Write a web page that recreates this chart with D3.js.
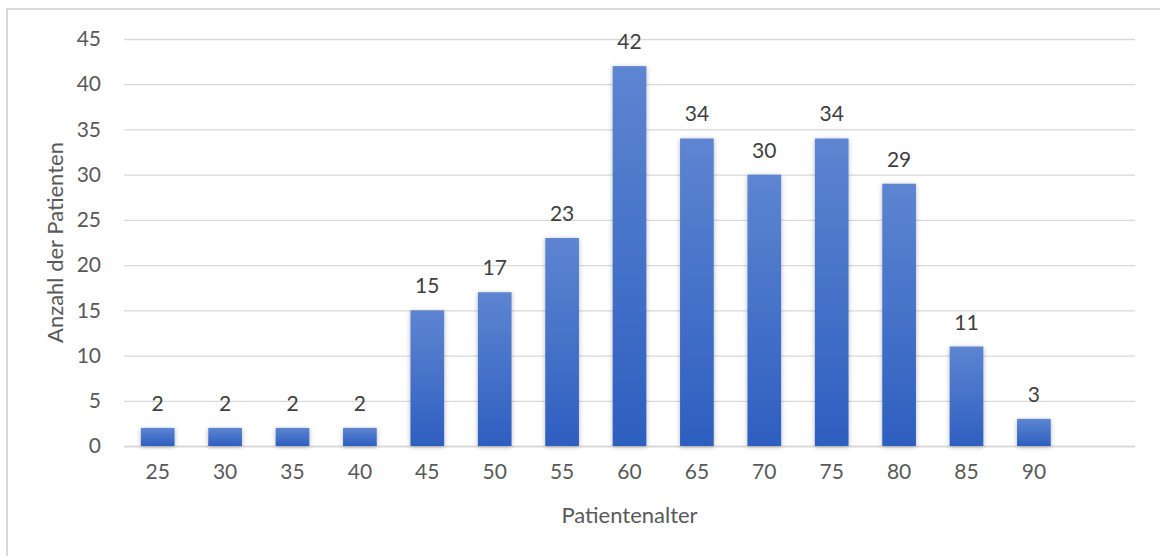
<!DOCTYPE html>
<html>
<head>
<meta charset="utf-8">
<script src="https://cdn.jsdelivr.net/npm/d3@7"></script>
<style>
  html, body { margin: 0; padding: 0; background: #ffffff; overflow: hidden; }
  svg { display: block; font-family: Lato, "Open Sans", sans-serif; }
</style>
</head>
<body>
<svg id="chart" width="1160" height="556"></svg>
<script>
// Age groups (the trailing empty slot keeps the extra band at the right)
const ageGroups = ["25", "30", "35", "40", "45", "50", "55", "60", "65", "70", "75", "80", "85", "90", ""];
const patientCounts = [2, 2, 2, 2, 15, 17, 23, 42, 34, 30, 34, 29, 11, 3, null];
const yTicks = [0, 5, 10, 15, 20, 25, 30, 35, 40, 45];
const xTitle = "Patientenalter";
const yTitle = "Anzahl der Patienten";

const data = ageGroups.map((g, i) => ({ group: g, value: patientCounts[i] }));

const svg = d3.select("#chart");
const plot = { left: 124, right: 1135, top: 39, bottom: 446 };

// Outer chart border (runs past the right and bottom edges)
svg.append("rect")
  .attr("x", 7).attr("y", 9)
  .attr("width", 1200).attr("height", 600)
  .attr("fill", "none")
  .attr("stroke", "#d9d9d9")
  .attr("stroke-width", 2);

const x = d3.scaleBand()
  .domain(ageGroups)
  .range([plot.left, plot.right])
  .paddingInner(0.5)
  .paddingOuter(0.25);

const y = d3.scaleLinear()
  .domain([0, 45])
  .range([plot.bottom, plot.top]);

const defs = svg.append("defs");
const grad = defs.append("linearGradient")
  .attr("id", "barFill")
  .attr("x1", 0).attr("y1", 0).attr("x2", 0).attr("y2", 1);
grad.append("stop").attr("offset", "0%").attr("stop-color", "#5d85d1");
grad.append("stop").attr("offset", "100%").attr("stop-color", "#2e5fc0");

const shadow = defs.append("filter")
  .attr("id", "barShadow")
  .attr("x", "-30%").attr("y", "-10%")
  .attr("width", "160%").attr("height", "130%");
shadow.append("feDropShadow")
  .attr("dx", 0).attr("dy", 1)
  .attr("stdDeviation", 2.5)
  .attr("flood-color", "#000")
  .attr("flood-opacity", 0.28);

// Horizontal gridlines
const yAxis = d3.axisLeft(y)
  .tickValues(yTicks)
  .tickSize(-(plot.right - plot.left))
  .tickPadding(23);

const yAxisG = svg.append("g")
  .attr("transform", `translate(${plot.left},0)`)
  .call(yAxis);
yAxisG.select(".domain").remove();
yAxisG.selectAll(".tick line")
  .attr("stroke", "#d9d9d9")
  .attr("stroke-width", d => d === 0 ? 2 : 1.3);
yAxisG.selectAll(".tick text")
  .attr("fill", "#595959")
  .attr("font-size", 21)
  .attr("font-family", "Lato, 'Open Sans', sans-serif");

// Bars
svg.append("g")
  .selectAll("rect")
  .data(data.filter(d => d.value != null))
  .join("rect")
  .attr("x", d => x(d.group))
  .attr("y", d => y(d.value))
  .attr("width", x.bandwidth())
  .attr("height", d => y(0) - y(d.value))
  .attr("fill", "url(#barFill)")
  .attr("filter", "url(#barShadow)");

// Value labels
svg.append("g")
  .selectAll("text")
  .data(data.filter(d => d.value != null))
  .join("text")
  .attr("x", d => x(d.group) + x.bandwidth() / 2)
  .attr("y", d => y(d.value) - 17)
  .attr("text-anchor", "middle")
  .attr("fill", "#404040")
  .attr("font-size", 21)
  .text(d => d.value);

// Category axis labels
const xAxis = d3.axisBottom(x).tickSize(0).tickPadding(18);
const xAxisG = svg.append("g")
  .attr("transform", `translate(0,${plot.bottom})`)
  .call(xAxis);
xAxisG.select(".domain").remove();
xAxisG.selectAll(".tick text")
  .attr("fill", "#595959")
  .attr("font-size", 21)
  .attr("font-family", "Lato, 'Open Sans', sans-serif");

// Axis titles
svg.append("text")
  .attr("x", (plot.left + plot.right) / 2)
  .attr("y", 523)
  .attr("text-anchor", "middle")
  .attr("fill", "#595959")
  .attr("font-size", 22)
  .text(xTitle);

svg.append("text")
  .attr("transform", `translate(63,${(plot.top + plot.bottom) / 2}) rotate(-90)`)
  .attr("text-anchor", "middle")
  .attr("fill", "#595959")
  .attr("font-size", 22)
  .text(yTitle);
</script>
</body>
</html>
